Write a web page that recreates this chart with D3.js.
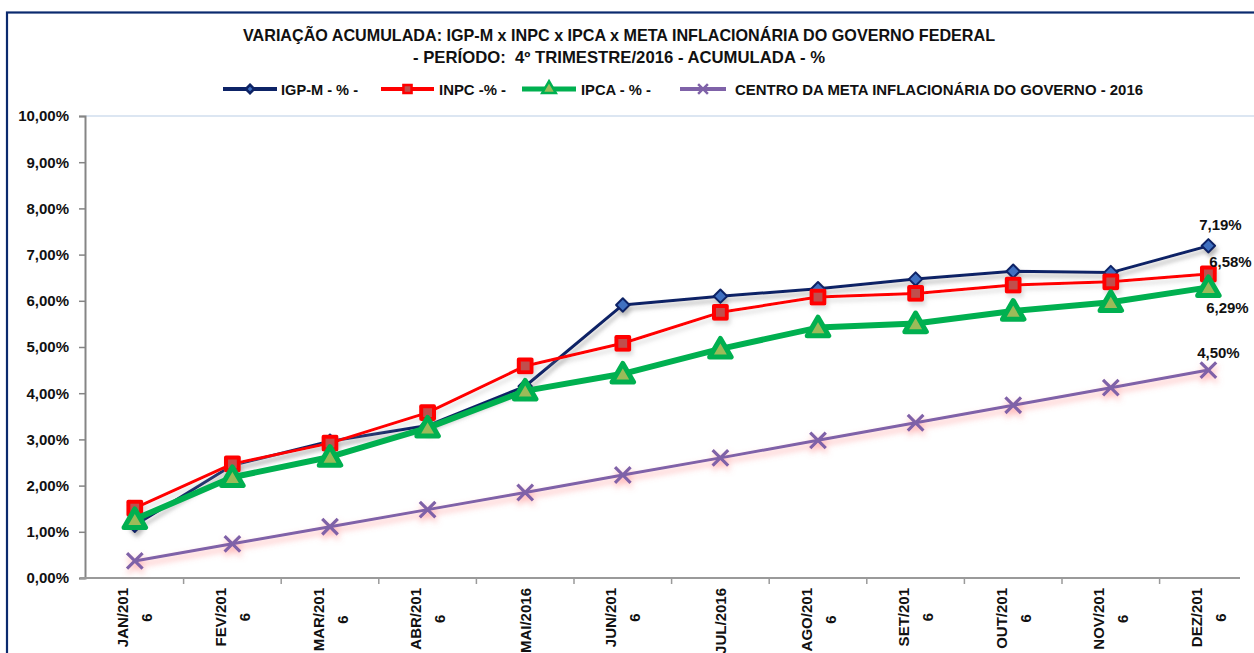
<!DOCTYPE html>
<html>
<head>
<meta charset="utf-8">
<script src="https://cdn.jsdelivr.net/npm/d3@7"></script>
<style>
  html, body { margin: 0; padding: 0; background: #ffffff; }
  svg { display: block; font-family: "Liberation Sans", Arial, sans-serif; font-weight: bold; }
  text.title { white-space: pre; }
</style>
</head>
<body>
<svg id="chart" width="1254" height="653"></svg>
<script>
// ---------- DATA ----------
const categories = ["JAN/2016","FEV/2016","MAR/2016","ABR/2016","MAI/2016","JUN/2016",
                    "JUL/2016","AGO/2016","SET/2016","OUT/2016","NOV/2016","DEZ/2016"];
const xTickLabels = [["JAN/201","6"],["FEV/201","6"],["MAR/201","6"],["ABR/201","6"],["MAI/2016"],
                     ["JUN/201","6"],["JUL/2016"],["AGO/201","6"],["SET/201","6"],["OUT/201","6"],
                     ["NOV/201","6"],["DEZ/201","6"]];
const igpm = [1.14, 2.44, 2.96, 3.30, 4.15, 5.91, 6.10, 6.26, 6.47, 6.64, 6.61, 7.19];
const inpc = [1.51, 2.47, 2.92, 3.58, 4.59, 5.08, 5.75, 6.08, 6.16, 6.34, 6.41, 6.58];
const ipca = [1.27, 2.18, 2.62, 3.25, 4.05, 4.42, 4.96, 5.42, 5.51, 5.78, 5.97, 6.29];
const meta = [0.37, 0.74, 1.11, 1.48, 1.85, 2.23, 2.60, 2.98, 3.36, 3.74, 4.12, 4.50];
const seriesNames = ["IGP-M - % -", "INPC -% -", "IPCA - % -", "CENTRO DA META INFLACIONÁRIA DO GOVERNO - 2016"];
const yTicks = [0,1,2,3,4,5,6,7,8,9,10];
const yTickLabels = ["0,00%","1,00%","2,00%","3,00%","4,00%","5,00%","6,00%","7,00%","8,00%","9,00%","10,00%"];
const endLabels = ["7,19%","6,58%","6,29%","4,50%"];
const titleLines = ["VARIAÇÃO ACUMULADA: IGP-M x INPC x IPCA x META INFLACIONÁRIA DO GOVERNO FEDERAL",
                    "- PERÍODO:  4º TRIMESTRE/2016 - ACUMULADA - %"];

// ---------- STYLE ----------
const series = [
  {name: seriesNames[0], values: igpm, color: "#0d2366", width: 3, marker: "diamond",  fill: "#3f6fc0", mstroke: "#0d2366", msize: 115, mw: 2,   shadow: "shadowGray",  label: endLabels[0], ldx: 12, ldy: -16},
  {name: seriesNames[1], values: inpc, color: "#ff0000", width: 3, marker: "square",   fill: "#c0504d", mstroke: "#ff0000", msize: 165, mw: 4,   shadow: "shadowGray2", label: endLabels[1], ldx: 22, ldy: -7},
  {name: seriesNames[2], values: ipca, color: "#00b050", width: 6, marker: "triangle", fill: "#9bbb59", mstroke: "#00b050", msize: 200, mw: 5,   shadow: null,          label: endLabels[2], ldx: 19, ldy: 26},
  {name: seriesNames[3], values: meta, color: "#7f62a8", width: 3, marker: "cross",    fill: "#7f62a8", mstroke: "#7f62a8", msize: 160, mw: 3.2, shadow: "glowPink",    label: endLabels[3], ldx: 10, ldy: -12}
];

const svg = d3.select("#chart");
const defs = svg.append("defs");
function dropShadow(id, color, opacity, dx, dy, blur) {
  const f = defs.append("filter").attr("id", id)
    .attr("x", "-10%").attr("y", "-10%").attr("width", "130%").attr("height", "140%");
  f.append("feGaussianBlur").attr("in", "SourceAlpha").attr("stdDeviation", blur).attr("result", "b");
  f.append("feOffset").attr("in", "b").attr("dx", dx).attr("dy", dy).attr("result", "o");
  f.append("feFlood").attr("flood-color", color).attr("flood-opacity", opacity).attr("result", "c");
  f.append("feComposite").attr("in", "c").attr("in2", "o").attr("operator", "in").attr("result", "s");
  const m = f.append("feMerge");
  m.append("feMergeNode").attr("in", "s");
  m.append("feMergeNode").attr("in", "SourceGraphic");
}
dropShadow("shadowGray", "#7f7f7f", 0.55, 2, 4, 2);
dropShadow("shadowGray2", "#9f9f9f", 0.35, 2, 4, 2);
dropShadow("glowPink", "#ff6f6f", 0.55, 1, 4, 3);

// frame
svg.append("rect").attr("x", 7).attr("y", 12.5).attr("width", 1300).attr("height", 700)
  .attr("fill", "none").attr("stroke", "#0b2a6e").attr("stroke-width", 2.2);

// scales
const x = d3.scaleBand().domain(categories).range([86, 86 + 12 * 97.6]).padding(0);
const xc = d => x(d) + x.bandwidth() / 2;
const y = d3.scaleLinear().domain([0, 10]).range([578, 116]);

// title
svg.selectAll("text.title").data(titleLines).enter().append("text")
  .attr("class", "title")
  .attr("x", 619).attr("y", (d, i) => i === 0 ? 41 : 63)
  .attr("text-anchor", "middle").attr("font-size", 16.5).attr("fill", "#111")
  .attr("textLength", (d, i) => i === 0 ? 752 : 412).attr("lengthAdjust", "spacingAndGlyphs")
  .text(d => d);

// plot top border (light)
svg.append("line").attr("x1", 85).attr("x2", 1254).attr("y1", y(10)).attr("y2", y(10))
  .attr("stroke", "#dce6f2").attr("stroke-width", 2);

// y axis
const yAxis = d3.axisLeft(y).tickValues(yTicks).tickSize(6).tickPadding(10)
  .tickFormat(d => yTickLabels[yTicks.indexOf(d)]);
const gy = svg.append("g").attr("transform", "translate(85,0)").call(yAxis);
gy.select(".domain").attr("stroke", "#858585").attr("stroke-width", 2);
gy.selectAll(".tick line").attr("stroke", "#858585").attr("stroke-width", 1.5);
gy.selectAll(".tick text").attr("font-size", 15).attr("fill", "#111")
  .attr("font-family", "'Liberation Sans', Arial, sans-serif").attr("font-weight", "bold");

// x axis
const xAxis = d3.axisBottom(x).tickSize(0).tickFormat("");
const gx = svg.append("g").attr("transform", "translate(0,578)").call(xAxis);
gx.select(".domain").remove();
svg.append("line").attr("x1", 80).attr("x2", 1240).attr("y1", 578).attr("y2", 578)
  .attr("stroke", "#9a9a9a").attr("stroke-width", 2);
// ticks between categories
svg.append("g").selectAll("line").data(categories.slice(1)).enter().append("line")
  .attr("x1", d => x(d)).attr("x2", d => x(d))
  .attr("y1", 578).attr("y2", 584).attr("stroke", "#9a9a9a").attr("stroke-width", 1.5);

// x labels (rotated, wrapped)
const xl = svg.append("g").selectAll("g").data(categories).enter().append("g")
  .attr("transform", d => `translate(${xc(d)},588) rotate(-90)`);
xl.each(function(d, i) {
  const g = d3.select(this);
  const lines = xTickLabels[i];
  const t1 = g.append("text").attr("text-anchor", "end").attr("font-size", 15).attr("fill", "#111")
    .attr("x", 0).attr("y", lines.length === 2 ? -6.5 : 5.5).text(lines[0]);
  if (lines.length === 2) {
    const w = t1.node().getComputedTextLength();
    g.append("text").attr("text-anchor", "middle").attr("font-size", 15).attr("fill", "#111")
      .attr("x", -w / 2).attr("y", 17.5).text(lines[1]);
  }
});

// marker symbols
function markerPath(type, size) {
  if (type === "diamond") return d3.symbol().type(d3.symbolDiamond2).size(size)();
  if (type === "square") return d3.symbol().type(d3.symbolSquare).size(size)();
  if (type === "triangle") return d3.symbol().type(d3.symbolTriangle).size(size)();
  return d3.symbol().type(d3.symbolX).size(size)();
}

const line = d3.line().x((d, i) => xc(categories[i])).y(d => y(d));

// series
series.forEach(s => {
  const g = svg.append("g");
  if (s.shadow) g.attr("filter", `url(#${s.shadow})`);
  g.append("path").datum(s.values).attr("d", line)
    .attr("fill", "none").attr("stroke", s.color).attr("stroke-width", s.width)
    .attr("stroke-linejoin", "round");
  g.selectAll("path.mk").data(s.values).enter().append("path").attr("class", "mk")
    .attr("d", markerPath(s.marker, s.msize))
    .attr("transform", (d, i) => `translate(${xc(categories[i])},${y(d) + (s.marker === "triangle" ? 2 : 0)})`)
    .attr("fill", s.marker === "cross" ? "none" : s.fill)
    .attr("stroke", s.mstroke)
    .attr("stroke-width", s.mw)
    .attr("stroke-linejoin", "round");
});

// end labels
series.forEach(s => {
  const last = s.values.length - 1;
  svg.append("text").attr("text-anchor", "middle").attr("font-size", 15).attr("fill", "#111")
    .attr("x", xc(categories[last]) + s.ldx).attr("y", y(s.values[last]) + s.ldy)
    .text(s.label);
});

// legend
const legendItems = [
  {s: series[0], x1: 223, x2: 277, tx: 281, tl: 77},
  {s: series[1], x1: 381, x2: 434, tx: 439, tl: 67},
  {s: series[2], x1: 522, x2: 576, tx: 581, tl: 70},
  {s: series[3], x1: 680, x2: 726, tx: 735, tl: 408}
];
const lg = svg.append("g");
legendItems.forEach(it => {
  const g = lg.append("g");
  g.append("line").attr("x1", it.x1).attr("x2", it.x2).attr("y1", 89).attr("y2", 89)
    .attr("stroke", it.s.color).attr("stroke-width", it.s.marker === "triangle" ? 5 : 4);
  const mx = (it.x1 + it.x2) / 2;
  g.append("path").attr("d", markerPath(it.s.marker, it.s.msize * 0.4))
    .attr("transform", `translate(${mx},89)`)
    .attr("fill", it.s.marker === "cross" ? "none" : it.s.fill)
    .attr("stroke", it.s.mstroke).attr("stroke-width", 2.5);
  g.append("text").attr("x", it.tx).attr("y", 95).attr("font-size", 15.5).attr("fill", "#111")
    .attr("textLength", it.tl).attr("lengthAdjust", "spacingAndGlyphs").text(it.s.name);
});
</script>
</body>
</html>
